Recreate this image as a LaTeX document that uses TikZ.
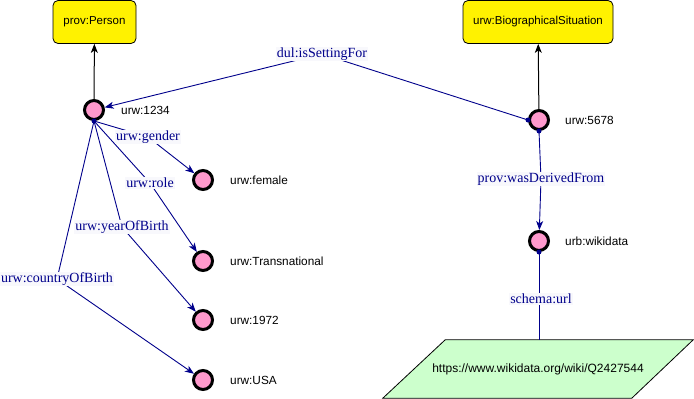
\documentclass[tikz,border=0pt]{standalone}
\usepackage{fontspec}
\setmainfont{Liberation Serif}
\setsansfont{Liberation Sans}
\usetikzlibrary{arrows.meta,calc}
\definecolor{edgeblue}{RGB}{0,0,139}
\definecolor{nodepink}{RGB}{255,153,204}
\definecolor{litgreen}{RGB}{204,255,204}
\definecolor{lblbg}{RGB}{248,248,252}
\begin{document}
\begin{tikzpicture}[x=1pt,y=-1pt,
  classbox/.style={draw=black, fill=yellow, rounded corners=5pt, minimum height=43pt,
    inner sep=0pt, font=\sffamily\fontsize{11.5}{13}\selectfont, line width=0.8pt},
  res/.style={circle, draw=black, line width=3pt, fill=nodepink, minimum size=19pt, inner sep=0pt},
  reslabel/.style={anchor=west, font=\sffamily\fontsize{11.8}{13}\selectfont, inner sep=0pt},
  prop/.style={fill=lblbg, text=edgeblue, inner sep=1pt, font=\fontsize{14}{16}\selectfont},
  rel/.style={draw=edgeblue, line width=0.9pt},
  relarrow/.style={rel, -{Stealth[length=9pt,width=7pt,inset=2.5pt]}},
  srcdot/.style={circle, fill=edgeblue, inner sep=0pt, minimum size=5pt},
  isa/.style={draw=black, line width=1pt, -{Stealth[length=9pt,width=7pt,inset=2.5pt]}},
]
\useasboundingbox (0,0) rectangle (694,399);

% classes
\node[classbox, minimum width=83pt] (person) at (94.5,22) {prov:Person};
\node[classbox, minimum width=150pt] (bio) at (538,22) {urw:BiographicalSituation};

% resources
\node[res] (p) at (94,110) {};
\node[res] (female) at (203,180) {};
\node[res] (trans) at (203,261) {};
\node[res] (y1972) at (203,320) {};
\node[res] (usa) at (203,380) {};
\node[res] (s) at (539,120) {};
\node[res] (w) at (539,241) {};

\node[reslabel] (pl) at (121,110) {urw:1234};
\node[reslabel] (femalel) at (230,180) {urw:female};
\node[reslabel] (transl) at (230,261) {urw:Transnational};
\node[reslabel] (y1972l) at (230,320) {urw:1972};
\node[reslabel] (usal) at (230,380) {urw:USA};
\node[reslabel] (sl) at (565,120) {urw:5678};
\node[reslabel] (wl) at (565,241) {urb:wikidata};

% literal value
\node[minimum width=310pt, minimum height=58pt, inner sep=0pt] (url) at (538,369) {};
\draw[fill=litgreen, line width=0.8pt]
  ($(url.north east)+(-248,0)$) -- (url.north east) -- ($(url.south west)+(249,0)$)
  -- (url.south west) -- cycle;
\node[font=\sffamily\fontsize{12}{14}\selectfont] at (url.center) {https://www.wikidata.org/wiki/Q2427544};

% typing
\draw[isa] (p) -- (person);
\draw[isa] (s) -- (bio);

% label positions
\coordinate (lset) at (322,54);
\coordinate (lgen) at (148,137);
\coordinate (lrole) at (150,183);
\coordinate (lyear) at (122,227);
\coordinate (lctry) at (57,279);
\coordinate (lder) at (541,179);
\coordinate (lurl) at (541,299);

% properties
\draw[rel] (s.west) -- (lset);
\draw[relarrow] (lset) -- (p);
\draw[rel] (p.south) -- (lgen);
\draw[relarrow] (lgen) -- (female);
\draw[rel] (p.south) -- (lrole);
\draw[relarrow] (lrole) -- (trans);
\draw[rel] (p.south) -- (lyear);
\draw[relarrow] (lyear) -- (y1972);
\draw[rel] (p.south) -- (lctry);
\draw[relarrow] (lctry) -- (usa);
\draw[rel] (s.south) -- (lder);
\draw[relarrow] (lder) -- (w);
\draw[rel] (w.south) -- (url.north -| w.south);

\node[srcdot] at (p.south) {};
\node[srcdot] at (s.west) {};
\node[srcdot] at (s.south) {};
\node[srcdot] at (w.south) {};

\node[prop] at (lset) {dul:isSettingFor};
\node[prop] at (lgen) {urw:gender};
\node[prop] at (lrole) {urw:role};
\node[prop] at (lyear) {urw:yearOfBirth};
\node[prop] at (lctry) {urw:countryOfBirth};
\node[prop] at (lder) {prov:wasDerivedFrom};
\node[prop] at (lurl) {schema:url};
\end{tikzpicture}
\end{document}
